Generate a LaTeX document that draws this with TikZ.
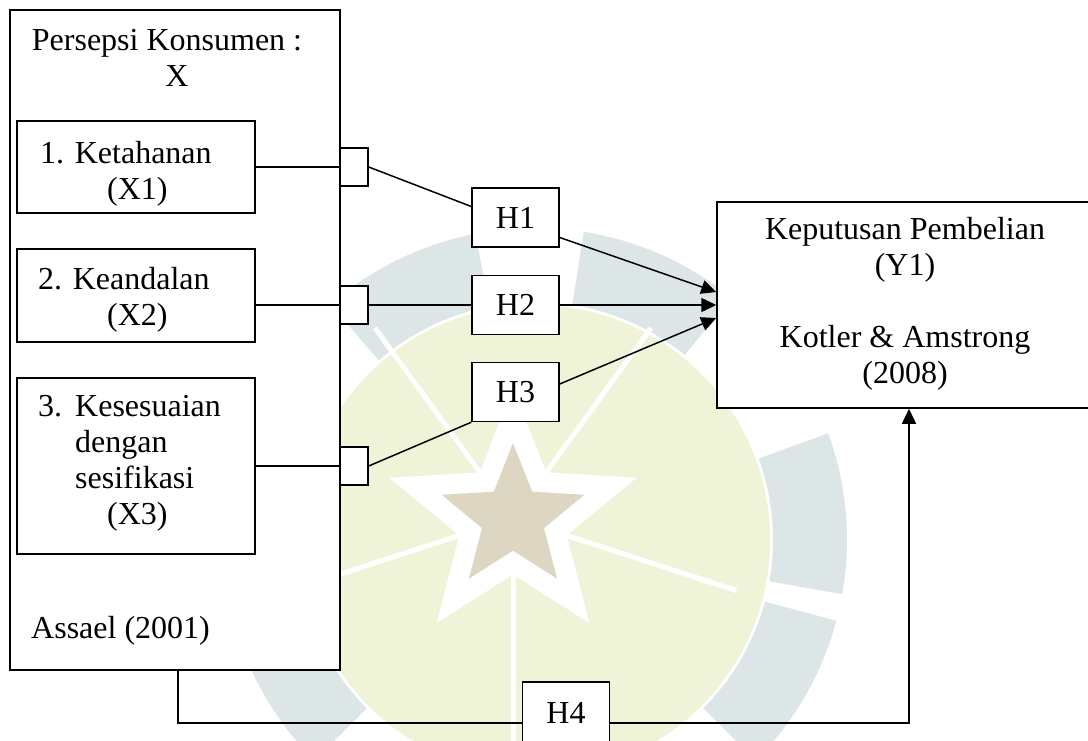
\documentclass[tikz,border=0pt]{standalone}
\usepackage{fontspec}
\setmainfont{Liberation Serif}
\usetikzlibrary{arrows.meta,shapes.geometric}
\definecolor{wmblue}{HTML}{DDE6E6}
\definecolor{wmgreen}{HTML}{EFF3D8}
\definecolor{wmstar}{HTML}{DCD6C2}
\tikzset{
	box/.style={draw, fill=white, line width=1.5pt, inner sep=0pt},
	hbox/.style={box, minimum width=87pt, minimum height=59pt, font=\fontsize{32}{36}\selectfont},
	port/.style={box, minimum width=28pt, minimum height=38pt},
	txt/.style={inner sep=0pt, font=\fontsize{32}{36}\selectfont},
	link/.style={line width=1.5pt},
	arr/.style={link, -{Triangle[length=15pt,width=14pt]}}
}
\begin{document}
\begin{tikzpicture}[x=1pt,y=-1pt]
			\useasboundingbox (0,0) rectangle (1088,741);
			\clip (0,0) rectangle (1088,741);
			% watermark
			\fill[wmgreen] (535,540) circle (235);
			\foreach \b in {-116,-66,-5,30,-210}
				\fill[wmblue, shift={(535,540)}] (\b-15:238) arc[start angle=\b-15, end angle=\b+15, radius=238] -- (\b+15:312) arc[start angle=\b+15, end angle=\b-15, radius=312] -- cycle;
			\foreach \a in {18,90,162,234,306}
				\draw[white, line width=5pt] (513,518) -- ++(\a:235);
			\node[star, star points=5, star point ratio=2.3, minimum size=260pt, fill=white, inner sep=0pt] (halo) at (513,518) {};
			\node[star, star points=5, star point ratio=2.3, minimum size=150pt, fill=wmstar, inner sep=0pt] (wstar) at (513,518) {};
			% left block
			\node[box, minimum width=330pt, minimum height=660pt] (outer) at (175,340) {};
			\node[box, minimum width=238pt, minimum height=92pt] (b1) at (136,167) {};
			\node[box, minimum width=238pt, minimum height=93pt] (b2) at (136,295.5) {};
			\node[box, minimum width=238pt, minimum height=176pt] (b3) at (136,466) {};
			\node[txt, align=center, anchor=base] (tx) at (167,87) {Persepsi Konsumen :\\\hspace*{20pt}X};
			\node[txt, align=left, anchor=base west] (t1) at (40,200) {1. Ketahanan\\\hspace*{67pt}(X1)};
			\node[txt, align=left, anchor=base west] (t2) at (38,325) {2. Keandalan\\\hspace*{69pt}(X2)};
			\node[txt, align=left, anchor=base west] (t3) at (38,524) {3.\hspace{13pt}Kesesuaian\\\hspace*{37pt}dengan\\\hspace*{37pt}sesifikasi\\\hspace*{69pt}(X3)};
			\node[txt, anchor=base west] (ta) at (31,638) {Assael (2001)};
			% right block
			\node[box, minimum width=384pt, minimum height=206pt] (y) at (909,305) {};
			\node[txt, align=center, anchor=base] (ty) at (905,383) {Keputusan Pembelian\\(Y1)\\[36pt]Kotler \& Amstrong\\(2008)};
			% ports and hypotheses
			\node[port] (s1) at (354,167) {};
			\node[port] (s2) at (354,305) {};
			\node[port] (s3) at (354,466) {};
			\node[hbox] (h1) at (515.5,217.5) {H1};
			\node[hbox] (h2) at (515.5,305) {H2};
			\node[hbox] (h3) at (515.5,392) {H3};
			\node[hbox, minimum height=62pt] (h4) at (566,713) {H4};
			% connectors
			\draw[link] (b1) -- (s1);
			\draw[link] (s1.east) -- ([yshift=11pt]h1.west);
			\draw[arr] ([yshift=-20pt]h1.east) -- ([yshift=13pt]y.west);
			\draw[link] (b2.east |- s2.west) -- (s2.west);
			\draw[link] (s2) -- (h2);
			\draw[arr] (h2) -- (y.west);
			\draw[link] (b3) -- (s3);
			\draw[link] (s3.east) -- (h3.south west);
			\draw[arr] ([yshift=8pt]h3.east) -- ([yshift=-13pt]y.west);
			\draw[link] ([xshift=3pt]outer.south) |- ([yshift=-10pt]h4.west);
			\draw[arr] ([yshift=-10pt]h4.east) -| (y.south);
		\end{tikzpicture}
\end{document}
